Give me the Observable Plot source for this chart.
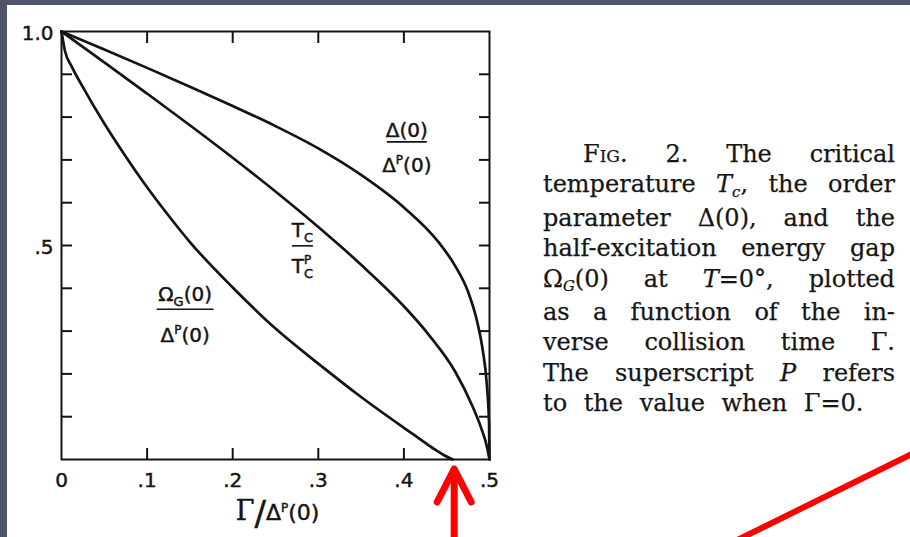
<!DOCTYPE html>
<html>
<head>
<meta charset="utf-8">
<script src="https://cdn.jsdelivr.net/npm/d3@7"></script>
<script src="https://cdn.jsdelivr.net/npm/@observablehq/plot@0.6"></script>
<style>
  html, body { margin: 0; padding: 0; width: 910px; height: 537px; overflow: hidden; background: #50546a; }
  #sheet { position: absolute; left: 7px; top: 5px; width: 903px; height: 532px; background: #fff; overflow: hidden; }
  #chart { position: absolute; left: 0; top: 0; }
  #caption { position: absolute; left: 536px; top: 134px; width: 352px;
    font-family: "DejaVu Serif", serif; font-size: 24px; line-height: 30.4px; color: #161616;
    -webkit-text-stroke: 0.25px #161616; }
  #caption .ln { display: flex; justify-content: space-between; white-space: nowrap; }
  #caption .ln.first { padding-left: 40px; }
  #caption .ln.last { display: block; word-spacing: 9px; }
  #caption .sc { font-variant: small-caps; }
  #caption sub { font-size: 0.62em; vertical-align: baseline; position: relative; top: 0.3em; font-style: italic; }
</style>
</head>
<body>
<div id="sheet">
  <div id="chart"></div>
  <div id="caption"></div>
</div>
<script>
// Γ/Δᴾ(0) sample positions and curve values for each of the three quantities
const deltaGamma = [0, 0.05, 0.10, 0.15, 0.20, 0.25, 0.30, 0.35, 0.40, 0.44, 0.46, 0.475, 0.485, 0.492, 0.497, 0.4995, 0.5];
const deltaValue = [1.000, 0.958, 0.915, 0.871, 0.826, 0.779, 0.727, 0.665, 0.589, 0.509, 0.452, 0.392, 0.327, 0.257, 0.172, 0.082, 0];

const tcGamma = [0, 0.05, 0.10, 0.15, 0.20, 0.25, 0.30, 0.35, 0.40, 0.43, 0.46, 0.48, 0.49, 0.497, 0.5];
const tcValue = [1.000, 0.928, 0.855, 0.781, 0.705, 0.626, 0.543, 0.455, 0.358, 0.289, 0.205, 0.125, 0.075, 0.030, 0];

const gapGamma = [0, 0.004, 0.012, 0.025, 0.05, 0.075, 0.10, 0.125, 0.15, 0.20, 0.25, 0.30, 0.35, 0.40, 0.42, 0.435, 0.447, 0.457];
const gapValue = [1.000, 0.955, 0.918, 0.870, 0.785, 0.708, 0.636, 0.570, 0.508, 0.402, 0.306, 0.224, 0.146, 0.074, 0.046, 0.025, 0.010, 0];

// axis ticks and their printed labels
const xTickValues = [0, 0.1, 0.2, 0.3, 0.4, 0.5];
const xTickLabels = ["0", ".1", ".2", ".3", ".4", ".5"];
const yTickValues = [0.5, 1.0];
const yTickLabels = [".5", "1.0"];
const xMinorTicks = [0.1, 0.2, 0.3, 0.4];
const yMinorTicks = [0.1, 0.2, 0.3, 0.4, 0.5, 0.6, 0.7, 0.8, 0.9];

// caption lines (justified word by word)
const captionLines = [
  ['<span class="sc">Fig.</span>', "2.", "The", "critical"],
  ["temperature", "<i>T</i><sub>c</sub>,", "the", "order"],
  ["parameter", "Δ(0),", "and", "the"],
  ["half-excitation", "energy", "gap"],
  ["Ω<sub>G</sub>(0)", "at", "<i>T</i>=0°,", "plotted"],
  ["as", "a", "function", "of", "the", "in-"],
  ["verse", "collision", "time", "Γ."],
  ["The", "superscript", "<i>P</i>", "refers"],
  ["to", "the", "value", "when", "Γ=0."]
];

const toRows = (gs, vs, name) => gs.map((g, i) => ({gamma: g, value: vs[i], curve: name}));
const rows = [
  ...toRows(deltaGamma, deltaValue, "delta"),
  ...toRows(tcGamma, tcValue, "tc"),
  ...toRows(gapGamma, gapValue, "gap")
];

const xLabelOf = new Map(xTickValues.map((t, i) => [t, xTickLabels[i]]));
const yLabelOf = new Map(yTickValues.map((t, i) => [t, yTickLabels[i]]));
const ink = "#141414";
const letter = "DejaVu Sans";

const chart = Plot.plot({
  width: 903,
  height: 532,
  marginLeft: 54,
  marginRight: 421,
  marginTop: 26,
  marginBottom: 78,
  style: {background: "transparent", fontFamily: letter, fontSize: "20px", color: ink},
  x: {domain: [0, 0.5], label: null},
  y: {domain: [0, 1], label: null},
  marks: [
    Plot.frame({stroke: ink, strokeWidth: 2}),
    // inward-pointing ticks on all four sides
    Plot.axisX(xMinorTicks, {anchor: "bottom", tickSize: 11, dy: -11, tickFormat: () => "", label: null, strokeWidth: 2, stroke: ink}),
    Plot.axisX(xMinorTicks, {anchor: "top", tickSize: 11, dy: 11, tickFormat: () => "", label: null, strokeWidth: 2, stroke: ink}),
    Plot.axisY(yMinorTicks, {anchor: "left", tickSize: 11, dx: 11, tickFormat: () => "", label: null, strokeWidth: 2, stroke: ink}),
    Plot.axisY(yMinorTicks, {anchor: "right", tickSize: 11, dx: -11, tickFormat: () => "", label: null, strokeWidth: 2, stroke: ink}),
    // tick labels
    Plot.axisX(xTickValues, {anchor: "bottom", tickSize: 0, tickPadding: 13, tickFormat: d => xLabelOf.get(d), label: null, fontSize: 20, fill: ink}),
    Plot.axisY(yTickValues, {anchor: "left", tickSize: 0, tickPadding: 8, dy: 2, tickFormat: d => yLabelOf.get(d), label: null, fontSize: 20, fill: ink}),
    // the three curves
    Plot.line(rows, {x: "gamma", y: "value", z: "curve", curve: "monotone-x", stroke: ink, strokeWidth: 2.7})
  ]
});
document.getElementById("chart").appendChild(chart);

const sx = chart.scale("x");
const sy = chart.scale("y");
const svg = d3.select(chart);
const notes = svg.append("g").attr("fill", ink).attr("font-family", letter);

// text built from plain, subscript and superscript pieces
function richText(g, x, y, parts, size, family) {
  const t = g.append("text")
    .attr("x", x).attr("y", y)
    .attr("text-anchor", "middle")
    .attr("font-size", size)
    .attr("font-family", family || letter);
  let shift = 0;
  for (const [s, kind, opts] of parts) {
    const ts = t.append("tspan").text(s);
    let target = 0;
    if (kind === "sup") { ts.attr("font-size", size * 0.6); target = -8; }
    else if (kind === "sub") { ts.attr("font-size", size * 0.65); target = 5; }
    else if (kind === "over") { ts.attr("font-size", size * 0.6).attr("dx", -9); target = -9; }
    else if (kind === "big") { ts.attr("font-size", opts.size).attr("font-family", opts.family || family || letter); target = opts.shift || 0; }
    ts.attr("dy", target - shift);
    shift = target;
  }
  return t;
}

// curve labels written as fractions
const curveLabels = [
  {x: 0.404, y: 0.741, bar: 40, numDy: -5, denDy: 30,
   num: [["Δ(0)"]], den: [["Δ"], ["P", "sup"], ["(0)"]]},
  {x: 0.282, y: 0.498, bar: 21, numDy: -9, denDy: 27,
   num: [["T"], ["C", "sub"]], den: [["T"], ["C", "sub"], ["P", "over"]]},
  {x: 0.145, y: 0.350, bar: 57, numDy: -8, denDy: 33,
   num: [["Ω"], ["G", "sub"], ["(0)"]], den: [["Δ"], ["P", "sup"], ["(0)"]]}
];
for (const L of curveLabels) {
  const cx = sx.apply(L.x), cy = sy.apply(L.y);
  richText(notes, cx, cy + L.numDy, L.num, 20);
  notes.append("line")
    .attr("x1", cx - L.bar / 2).attr("x2", cx + L.bar / 2)
    .attr("y1", cy).attr("y2", cy)
    .attr("stroke", ink).attr("stroke-width", 1.6);
  richText(notes, cx, cy + L.denDy, L.den, 20);
}

// axis title Γ/Δᴾ(0)
richText(notes, sx.apply(0.253), sy.apply(0) + 61, [
  ["Γ", "big", {size: 27, family: "DejaVu Serif"}],
  ["/", "big", {size: 34, shift: 5}],
  ["Δ", "big", {size: 22}], ["P", "sup"], ["(0)", "big", {size: 22}]
], 20);

// slightly heavier lettering for all chart text
svg.selectAll("text").attr("stroke", ink).attr("stroke-width", 0.45);

// red pointer at the onset of gapless behaviour, and a red stroke at lower right
const red = "#ff0000";
const onset = gapGamma[gapGamma.length - 1];
const ax = sx.apply(onset) + 2;
const tipY = sy.apply(0) + 10;
const marks = svg.append("g").attr("stroke", red).attr("fill", "none")
  .attr("stroke-width", 7).attr("stroke-linecap", "round").attr("stroke-linejoin", "round");
marks.append("path").attr("d", `M${ax - 17},${tipY + 33}L${ax},${tipY}L${ax + 17},${tipY + 33}`);
marks.append("line").attr("x1", ax).attr("y1", tipY + 4).attr("x2", ax).attr("y2", 545).attr("stroke-linecap", "butt");
marks.append("line").attr("x1", 712).attr("y1", 544).attr("x2", 915).attr("y2", 444).attr("stroke-width", 6).attr("stroke-linecap", "butt");

// caption
const cap = d3.select("#caption");
captionLines.forEach((words, i) => {
  const cls = i === 0 ? "ln first" : i === captionLines.length - 1 ? "ln last" : "ln";
  const div = cap.append("div").attr("class", cls);
  if (i === captionLines.length - 1) div.html(words.join(" "));
  else words.forEach(w => div.append("span").html(w));
});
</script>
</body>
</html>
